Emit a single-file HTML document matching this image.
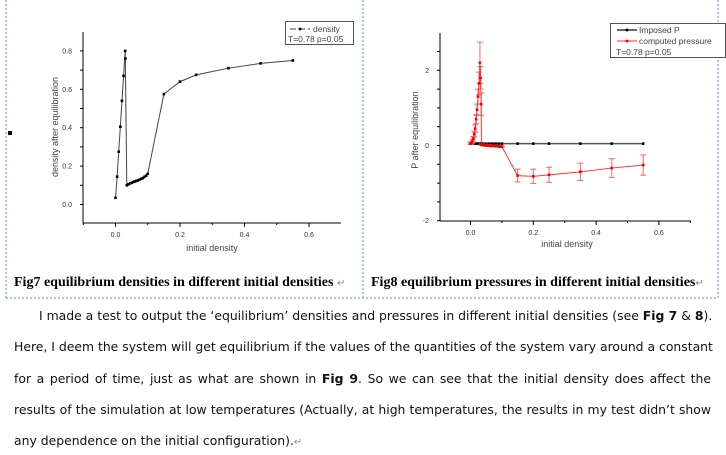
<!DOCTYPE html>
<html><head><meta charset="utf-8"><style>
body{margin:0;width:726px;height:455px;background:#fff;overflow:hidden;position:relative;font-family:"DejaVu Sans","Liberation Sans",sans-serif}
svg{position:absolute;left:0;top:0}
.cap{position:absolute;top:275px;font-family:"Liberation Serif",serif;font-weight:bold;font-size:14px;color:#000;white-space:nowrap}
.ln{position:absolute;left:14px;width:697px;font-size:12.4px;color:#111;white-space:nowrap;text-align:justify;text-align-last:justify}
</style></head><body>
<svg width="726" height="455" id="s">
<g fill="none" stroke="#5b8fd9" stroke-dasharray="2,2" stroke-width="1">
<line x1="6" y1="0" x2="6" y2="298"/>
<line x1="363" y1="0" x2="363" y2="298"/>
<line x1="718" y1="0" x2="718" y2="298"/>
<line x1="6" y1="298" x2="718" y2="298"/>
</g>
<rect x="8" y="131" width="4" height="4" fill="#000"/>
<g id="c1"></g><g id="c2"></g>
</svg>
<div class="cap" style="left:14px">Fig7 equilibrium densities in different initial densities <span style="font-weight:normal;font-size:10px;color:#888">↵</span></div>
<div class="cap" style="left:371px">Fig8 equilibrium pressures in different initial densities<span style="font-weight:normal;font-size:10px;color:#888">↵</span></div>
<div class="ln" style="top:308px;left:39px;width:672px">I made a test to output the ‘equilibrium’ densities and pressures in different initial densities (see <b>Fig 7</b> &amp; <b>8</b>).</div>
<div class="ln" style="top:339px">Here, I deem the system will get equilibrium if the values of the quantities of the system vary around a constant</div>
<div class="ln" style="top:371px">for a period of time, just as what are shown in <b>Fig 9</b>. So we can see that the initial density does affect the</div>
<div class="ln" style="top:402px">results of the simulation at low temperatures (Actually, at high temperatures, the results in my test didn’t show</div>
<div class="ln" style="top:433px;text-align-last:left;width:auto">any dependence on the initial configuration).<span style="color:#888;font-size:10px">↵</span></div>
<script>
const densX=[0,0.005,0.01,0.015,0.02,0.025,0.03,0.0305,0.035,0.04,0.045,0.05,0.055,0.06,0.065,0.07,0.075,0.08,0.085,0.09,0.095,0.1,0.15,0.2,0.25,0.35,0.45,0.55];
const densY=[0.035,0.145,0.275,0.405,0.54,0.67,0.80,0.76,0.10,0.105,0.11,0.113,0.117,0.12,0.123,0.126,0.13,0.134,0.138,0.144,0.15,0.16,0.575,0.64,0.675,0.71,0.735,0.75];
const xTicks=[0.0,0.2,0.4,0.6];
const y1Ticks=[0.0,0.2,0.4,0.6,0.8];
const presX=[0,0.003,0.006,0.009,0.012,0.015,0.018,0.021,0.024,0.027,0.03,0.032,0.034,0.035,0.04,0.045,0.05,0.055,0.06,0.065,0.07,0.075,0.08,0.085,0.09,0.095,0.1,0.15,0.2,0.25,0.35,0.45,0.55];
const presY=[0.05,0.07,0.12,0.18,0.3,0.45,0.7,0.95,1.3,1.65,2.2,1.8,1.1,0.02,0.01,0.01,0.0,0.0,0.0,-0.01,-0.01,-0.01,-0.02,-0.02,-0.02,-0.03,-0.03,-0.8,-0.82,-0.78,-0.7,-0.6,-0.52];
const presErr=[0.02,0.03,0.05,0.06,0.08,0.1,0.12,0.15,0.2,0.3,0.55,0.3,0.3,0.02,0.02,0.02,0.02,0.02,0.02,0.02,0.02,0.02,0.02,0.02,0.02,0.02,0.02,0.17,0.19,0.2,0.23,0.25,0.27];
const impX=[0,0.005,0.01,0.015,0.02,0.025,0.03,0.035,0.04,0.05,0.06,0.07,0.08,0.09,0.1,0.15,0.2,0.25,0.35,0.45,0.55];
const impY=impX.map(()=>0.05);
const y2Ticks=[-2,0,2];
const NS='http://www.w3.org/2000/svg';
function mk(p,t,a){const e=document.createElementNS(NS,t);for(const k in a)e.setAttribute(k,a[k]);p.appendChild(e);return e;}
const c1=document.getElementById('c1');
const x1=v=>115.5+v*322.5, y1=v=>204.5-v*192;
function axes(g,xs,ax,ay,top,bottom,right,yt,ymin,ymax,yminor,fmt){
 let l=mk(g,'line',{x1:ax,y1:top,x2:ax,y2:bottom,stroke:'#000'});
 
 l=mk(g,'line',{x1:ax,y1:bottom,x2:right,y2:bottom,stroke:'#000'});
 
 for(let v=-0.1;v<=0.701;v+=0.1){const X=xs(v);if(X<ax||X>right)continue;const maj=Math.abs(Math.round(v*10)%2)==0;mk(g,'line',{x1:X,y1:bottom,x2:X,y2:bottom+(maj?4:2),stroke:'#000'});}
 xTicks.forEach(v=>{const t=mk(g,'text',{x:xs(v),y:bottom+14,'font-size':7,'text-anchor':'middle','font-family':'Liberation Sans,sans-serif',fill:'#333'});t.textContent=v.toFixed(1);
 });
 for(let v=ymin;v<=ymax+1e-9;v+=yminor){const Y=ay(v);if(Y<top||Y>bottom)continue;mk(g,'line',{x1:ax-3,y1:Y,x2:ax,y2:Y,stroke:'#000'});}
 yt.forEach(v=>{const t=mk(g,'text',{x:ax-11,y:ay(v)+2.5,'font-size':7,'text-anchor':'end','font-family':'Liberation Sans,sans-serif',fill:'#333'});t.textContent=fmt(v);
 });
}
axes(c1,x1,83,y1,32,223,341,y1Ticks,-0.1,0.9,0.1,v=>v.toFixed(1));
let t=mk(c1,'text',{x:212,y:251,'font-size':9,'text-anchor':'middle',fill:'#444','font-family':'Liberation Sans,sans-serif'});t.textContent='initial density';

t=mk(c1,'text',{x:58,y:127,'font-size':9,'text-anchor':'middle',fill:'#444','font-family':'Liberation Sans,sans-serif',transform:'rotate(-90 58 127)'});t.textContent='density after equilibration';

let pl=mk(c1,'polyline',{points:densX.map((v,i)=>x1(v)+','+y1(densY[i])).join(' '),fill:'none',stroke:'#444','stroke-width':1});

densX.forEach((v,i)=>{const r=mk(c1,'rect',{x:x1(v)-1.3,y:y1(densY[i])-1.3,width:2.6,height:2.6,fill:'#000'});
});
let lg=mk(c1,'g',{});
mk(lg,'rect',{x:285.5,y:21.5,width:68,height:23,fill:'#fff',stroke:'#555'});
mk(lg,'line',{x1:290,y1:29,x2:310,y2:29,stroke:'#444','stroke-dasharray':'6,3'});mk(lg,'rect',{x:298.7,y:27.7,width:2.6,height:2.6,fill:'#000'});
t=mk(lg,'text',{x:313,y:32,'font-size':8.5,fill:'#444','font-family':'Liberation Sans,sans-serif'});t.textContent='density';
t=mk(lg,'text',{x:288,y:42,'font-size':8.5,fill:'#444','font-family':'Liberation Sans,sans-serif'});t.textContent='T=0.78 p=0.05';
const c2=document.getElementById('c2');
const x2=v=>470.5+v*314, y2=v=>145.5-v*37.6;
axes(c2,x2,440,y2,33,221,691,y2Ticks,-2,2.8,0.5,v=>String(v));
t=mk(c2,'text',{x:567,y:247,'font-size':9,'text-anchor':'middle',fill:'#444','font-family':'Liberation Sans,sans-serif'});t.textContent='initial density';

t=mk(c2,'text',{x:418,y:130,'font-size':9,'text-anchor':'middle',fill:'#444','font-family':'Liberation Sans,sans-serif',transform:'rotate(-90 418 130)'});t.textContent='P after equilibration';

pl=mk(c2,'polyline',{points:impX.map((v,i)=>x2(v)+','+y2(impY[i])).join(' '),fill:'none',stroke:'#555','stroke-width':1.5});

impX.forEach((v,i)=>{const r=mk(c2,'rect',{x:x2(v)-1.3,y:y2(impY[i])-1.3,width:2.6,height:2.6,fill:'#000'});
});
presX.forEach((v,i)=>{const X=x2(v),a=y2(presY[i]+presErr[i]),b=y2(presY[i]-presErr[i]);
const g=mk(c2,'g',{stroke:'#f66','stroke-width':1});
mk(g,'line',{x1:X,y1:a,x2:X,y2:b});mk(g,'line',{x1:X-3,y1:a,x2:X+3,y2:a});mk(g,'line',{x1:X-3,y1:b,x2:X+3,y2:b});});
pl=mk(c2,'polyline',{points:presX.map((v,i)=>x2(v)+','+y2(presY[i])).join(' '),fill:'none',stroke:'#f33','stroke-width':1});

presX.forEach((v,i)=>{const r=mk(c2,'rect',{x:x2(v)-1.3,y:y2(presY[i])-1.3,width:2.6,height:2.6,fill:'#e00'});
});
lg=mk(c2,'g',{});
mk(lg,'rect',{x:610.5,y:23.5,width:115,height:34,fill:'#fff',stroke:'#555'});
mk(lg,'line',{x1:617,y1:30,x2:637,y2:30,stroke:'#333','stroke-width':1.5});mk(lg,'rect',{x:625.7,y:28.7,width:2.6,height:2.6,fill:'#000'});
t=mk(lg,'text',{x:639,y:33,'font-size':8.5,fill:'#444','font-family':'Liberation Sans,sans-serif'});t.textContent='Imposed P';
mk(lg,'line',{x1:617,y1:41,x2:637,y2:41,stroke:'#f33'});mk(lg,'rect',{x:625.7,y:39.7,width:2.6,height:2.6,fill:'#e00'});
t=mk(lg,'text',{x:639,y:44,'font-size':8.5,fill:'#444','font-family':'Liberation Sans,sans-serif'});t.textContent='computed pressure';
t=mk(lg,'text',{x:616,y:55,'font-size':8.5,fill:'#444','font-family':'Liberation Sans,sans-serif'});t.textContent='T=0.78 p=0.05';
</script>
</body></html>
